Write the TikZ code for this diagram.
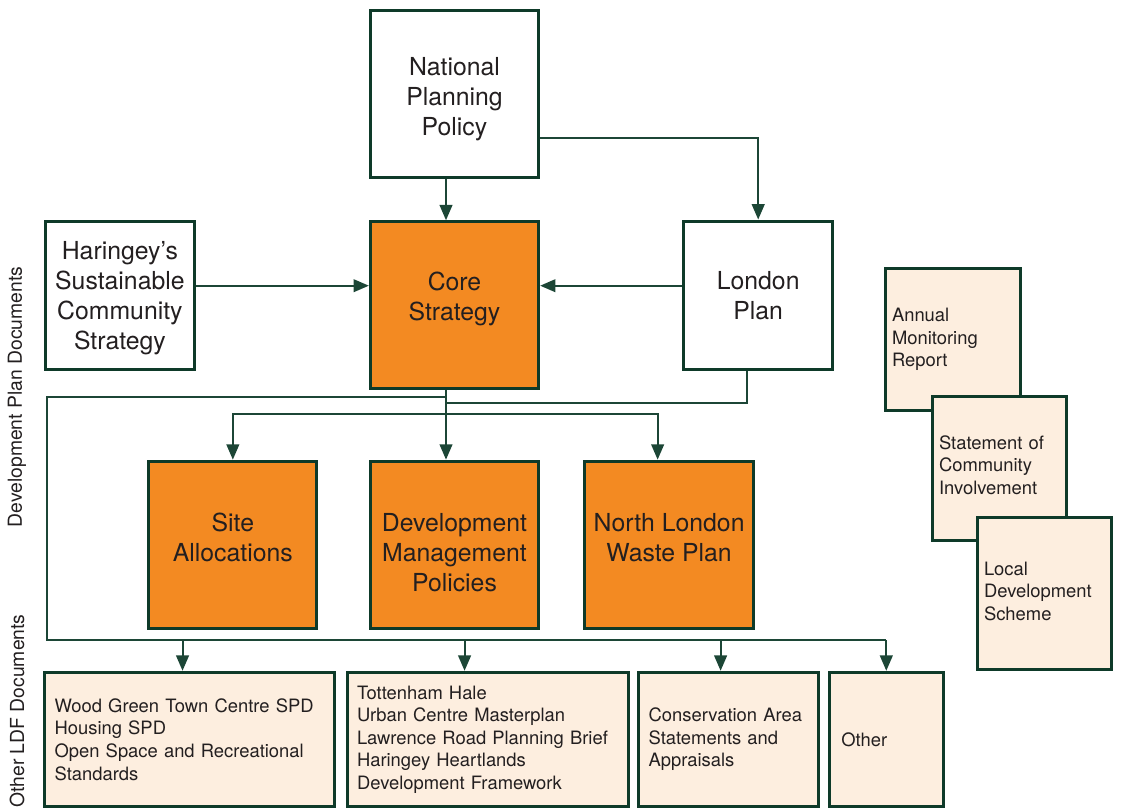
\documentclass[tikz,border=0pt]{standalone}
\usepackage{fontspec}
\setmainfont{TeX Gyre Heros}
\usetikzlibrary{positioning,arrows.meta}

\definecolor{edge}{HTML}{0E3A29}
\definecolor{wire}{HTML}{1C4636}
\definecolor{amber}{HTML}{F38A22}
\definecolor{cream}{HTML}{FDEEDF}
\definecolor{ink}{HTML}{231F20}

\newcommand{\dpdfont}{\fontsize{18.6pt}{22.5pt}\selectfont}
\newcommand{\ldffont}{\fontsize{13.8pt}{16.9pt}\selectfont}

\tikzstyle{box} = [rectangle, draw=edge, line width=2.25pt, text=ink]
\tikzstyle{plan} = [box, fill=white, align=center, font=\dpdfont, minimum width=126.2pt, minimum height=125.3pt]
\tikzstyle{dpd} = [plan, fill=amber]
\tikzstyle{ldf} = [box, fill=cream, align=left, font=\ldffont, inner xsep=7.5pt, minimum height=100.8pt]
\tikzstyle{aside} = [ldf, inner xsep=5.25pt]
\tikzstyle{tag} = [rotate=90, text=ink, font=\fontsize{14.5pt}{17pt}\selectfont]

\begin{document}
\begin{tikzpicture}[->,>={Triangle[length=11.5pt,width=9.5pt]},line width=1.5pt,wire,x=0.75pt,y=-0.75pt]
  \useasboundingbox (0,0) rectangle (1121,809);

  % development plan documents
  \node[dpd, text depth=13pt] (core) at (454.5,305.3) {Core\\Strategy};
  \node[plan, text height=65.9pt] (national) [above=30.75pt of core] {National\\Planning\\Policy};
  \node[plan, minimum width=111.7pt, minimum height=111.2pt, text height=85.4pt] (haringey) at (119.9,295.2) {Haringey’s\\Sustainable\\Community\\Strategy};
  \node[plan, minimum width=111.7pt, minimum height=111.2pt] (london) at (758.2,295.2) {London\\Plan};
  \node[dpd, text height=70.4pt] (dev) [below=52pt of core] {Development\\Management\\Policies};
  \node[dpd, text depth=10.7pt] (site) [left=37.8pt of dev] {Site\\Allocations};
  \node[dpd, text depth=10.7pt] (waste) [right=32.5pt of dev] {North London\\Waste Plan};

  % other LDF documents
  \node[ldf, text width=202.5pt] (docA) at (189.6,739.5) {Wood Green Town Centre SPD\\Housing SPD\\Open Space and Recreational\\Standards};
  \node[ldf, text width=195.75pt] (docB) at (487.5,739.5) {Tottenham Hale\\Urban Centre Masterplan\\Lawrence Road Planning Brief\\Haringey Heartlands\\Development Framework};
  \node[ldf, text width=120pt] (docC) at (728.6,739.5) {Conservation Area\\Statements and\\Appraisals};
  \node[ldf, text width=67.5pt, inner xsep=9pt] (docD) at (886.3,739.5) {Other};

  \node[aside, text width=90.75pt, minimum height=105.75pt] (amr) at (952.5,339.5) {Annual\\Monitoring\\Report};
  \node[aside, text width=90.3pt, minimum height=108pt, text depth=38.8pt] (sci) at (999.2,468) {Statement of\\Community\\Involvement};
  \node[aside, text width=90pt, minimum height=113.7pt, text depth=37.8pt] (lds) at (1044,593.5) {Local\\Development\\Scheme};

  \node[tag] (dpdlabel) at (17,397) {Development Plan Documents};
  \node[tag] (ldflabel) at (17,711) {Other LDF Documents};

  \coordinate (level) at (0,285.7);
  \coordinate (tap) at (446,397);
  \coordinate (join) at (446,403);
  \coordinate (fork) at (446,414);
  \coordinate (corner) at (47,640);

  \draw (national.south -| tap) -- (core.north -| tap);
  \draw ([yshift=-32.6pt]national.east) -| (london);
  \draw (haringey.east |- level) -- (core.west |- level);
  \draw (london.west |- level) -- (core.east |- level);
  \draw (core.south -| tap) -- (dev.north -| tap);
  \draw[-] ([xshift=-8.3pt]london.south) |- (join);
  \draw (fork) -| (site);
  \draw (fork) -| ([xshift=-8.6pt]waste.north);
  \draw[-] (tap) -| (corner) -- (corner -| docD.north);
  \foreach \doc/\dx in {docA/-5.3pt,docB/-17.2pt,docC/-6pt,docD/0pt}
    \draw ([xshift=\dx]\doc.north |- corner) -- ([xshift=\dx]\doc.north);
\end{tikzpicture}
\end{document}
